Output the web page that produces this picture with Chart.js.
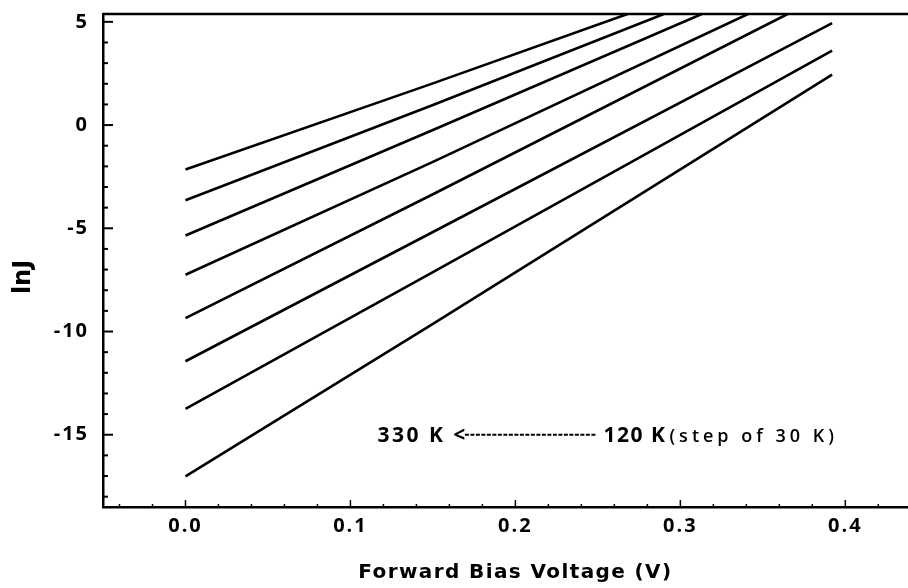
<!DOCTYPE html>
<html>
<head>
<meta charset="utf-8">
<title>lnJ vs forward bias voltage</title>
<script src="https://cdn.jsdelivr.net/npm/chart.js@4.4.1/dist/chart.umd.min.js"></script>
<style>
  html, body { margin: 0; padding: 0; background: #fff; }
</style>
</head>
<body>
<canvas id="chart" width="908" height="588"></canvas>
<script>
// lnJ against forward bias, one curve per temperature (330 K down to 120 K, step 30 K)
var temps = ["330 K", "300 K", "270 K", "240 K", "210 K", "180 K", "150 K", "120 K"];

var v330 = [0.0, 0.15, 0.268], j330 = [-2.15, 2.02, 5.38];
var v300 = [0.0, 0.15, 0.290], j300 = [-3.64, 0.97, 5.38];
var v270 = [0.0, 0.15, 0.313], j270 = [-5.35, -0.24, 5.38];
var v240 = [0.0, 0.15, 0.341], j240 = [-7.25, -1.78, 5.38];
var v210 = [0.0, 0.15, 0.365], j210 = [-9.35, -3.35, 5.38];
var v180 = [0.0, 0.15, 0.392], j180 = [-11.44, -5.18, 4.94];
var v150 = [0.0, 0.15, 0.392], j150 = [-13.75, -7.12, 3.61];
var v120 = [0.0, 0.15, 0.392], j120 = [-17.02, -9.63, 2.44];

var xTicks = [0.0, 0.1, 0.2, 0.3, 0.4];
var yTicks = [5, 0, -5, -10, -15];
var xMin = -0.05, xMax = 0.438;
var yMin = -18.5, yMax = 5.38;

var xs = [v330, v300, v270, v240, v210, v180, v150, v120];
var ys = [j330, j300, j270, j240, j210, j180, j150, j120];

function toPoints(vx, vy) {
  return vx.map(function (v, i) { return { x: v, y: vy[i] }; });
}

var datasets = temps.map(function (t, i) {
  return {
    label: t,
    data: toPoints(xs[i], ys[i]),
    borderColor: "#000",
    borderWidth: 2.6,
    pointRadius: 0,
    tension: 0,
    fill: false
  };
});

// frame on top plus inward tick marks (major and minor)
var frameTicks = {
  id: "frameTicks",
  afterDraw: function (chart) {
    var ctx = chart.ctx, a = chart.chartArea;
    var x = chart.scales.x, y = chart.scales.y;
    ctx.save();
    ctx.strokeStyle = "#000";
    ctx.lineWidth = 2.5;
    ctx.beginPath();
    ctx.moveTo(a.left, a.top);
    ctx.lineTo(a.right, a.top);
    ctx.stroke();

    ctx.lineWidth = 2;
    for (var v = -18; v <= 5; v++) {
      var py = y.getPixelForValue(v);
      var len = v % 5 === 0 ? 10 : 5;
      ctx.beginPath();
      ctx.moveTo(a.left, py);
      ctx.lineTo(a.left + len, py);
      ctx.stroke();
    }
    ctx.lineWidth = 1.5;
    for (var i = -2; i <= 21; i++) {
      var px = x.getPixelForValue(i * 0.02);
      var l2 = i % 5 === 0 ? 7 : 3;
      ctx.beginPath();
      ctx.moveTo(px, a.bottom);
      ctx.lineTo(px, a.bottom - l2);
      ctx.stroke();
    }
    ctx.restore();
  }
};

// axis titles and the temperature note
var texts = {
  id: "texts",
  beforeDraw: function (chart) {
    chart.ctx.letterSpacing = "2px";
  },
  afterDraw: function (chart) {
    var ctx = chart.ctx;
    var x = chart.scales.x, y = chart.scales.y;
    ctx.save();
    ctx.fillStyle = "#000";
    ctx.strokeStyle = "#000";
    ctx.textBaseline = "alphabetic";

    // note: 330 K <------ 120 K (step of 30 K)
    var nx = x.getPixelForValue(0.1164), ny = y.getPixelForValue(-15.34);
    ctx.textAlign = "left";
    ctx.font = 'bold 21px "Open Sans"';
    ctx.letterSpacing = "2.5px";
    ctx.fillText("330 K <", nx, ny);
    var w = ctx.measureText("330 K <").width;
    ctx.lineWidth = 1.8;
    ctx.setLineDash([4, 1.5]);
    ctx.beginPath();
    ctx.moveTo(nx + w - 3, ny - 7);
    ctx.lineTo(nx + 218, ny - 7);
    ctx.stroke();
    ctx.setLineDash([]);
    var x2 = nx + 226;
    ctx.letterSpacing = "1.5px";
    ctx.fillText("120 K", x2, ny);
    var w2 = ctx.measureText("120 K").width;
    ctx.font = '600 18px "Open Sans"';
    ctx.letterSpacing = "4px";
    ctx.fillText("(step of 30 K)", x2 + w2 + 3, ny);

    // x title
    ctx.font = 'bold 20px "DejaVu Sans"';
    ctx.letterSpacing = "1.4px";
    ctx.textAlign = "center";
    ctx.fillText("Forward Bias Voltage (V)", x.getPixelForValue(0.2), chart.height - 10);

    // y title
    ctx.translate(30, 277);
    ctx.rotate(-Math.PI / 2);
    ctx.font = 'bold 24px "DejaVu Sans"';
    ctx.letterSpacing = "0px";
    ctx.fillText("lnJ", 0, 0);
    ctx.restore();
  }
};

function noPad(scale) {
  scale.paddingTop = 0;
  scale.paddingBottom = 0;
  scale.paddingLeft = 0;
  scale.paddingRight = 0;
}

new Chart(document.getElementById("chart").getContext("2d"), {
  type: "line",
  data: { datasets: datasets },
  plugins: [frameTicks, texts],
  options: {
    responsive: false,
    devicePixelRatio: 1,
    animation: false,
    layout: { padding: { top: 14, right: 0, left: 0, bottom: 0 } },
    plugins: { legend: { display: false }, tooltip: { enabled: false } },
    scales: {
      x: {
        type: "linear",
        min: xMin,
        max: xMax,
        grid: { display: false, drawTicks: false },
        border: { display: true, color: "#000", width: 2.5 },
        afterBuildTicks: function (scale) {
          scale.ticks = xTicks.map(function (v) { return { value: v }; });
        },
        afterFit: function (scale) { scale.height = 81; noPad(scale); },
        ticks: {
          autoSkip: false,
          maxRotation: 0,
          padding: 7,
          color: "#000",
          font: { family: "Open Sans", size: 20, weight: "bold" },
          callback: function (v) { return Number(v).toFixed(1); }
        }
      },
      y: {
        type: "linear",
        min: yMin,
        max: yMax,
        grid: { display: false, drawTicks: false },
        border: { display: true, color: "#000", width: 2.5 },
        afterBuildTicks: function (scale) {
          scale.ticks = yTicks.map(function (v) { return { value: v }; });
        },
        afterFit: function (scale) { scale.width = 103; noPad(scale); },
        ticks: {
          autoSkip: false,
          padding: 14,
          color: "#000",
          font: { family: "Open Sans", size: 20, weight: "bold" },
          callback: function (v) { return String(v); }
        }
      }
    }
  }
});
</script>
</body>
</html>
